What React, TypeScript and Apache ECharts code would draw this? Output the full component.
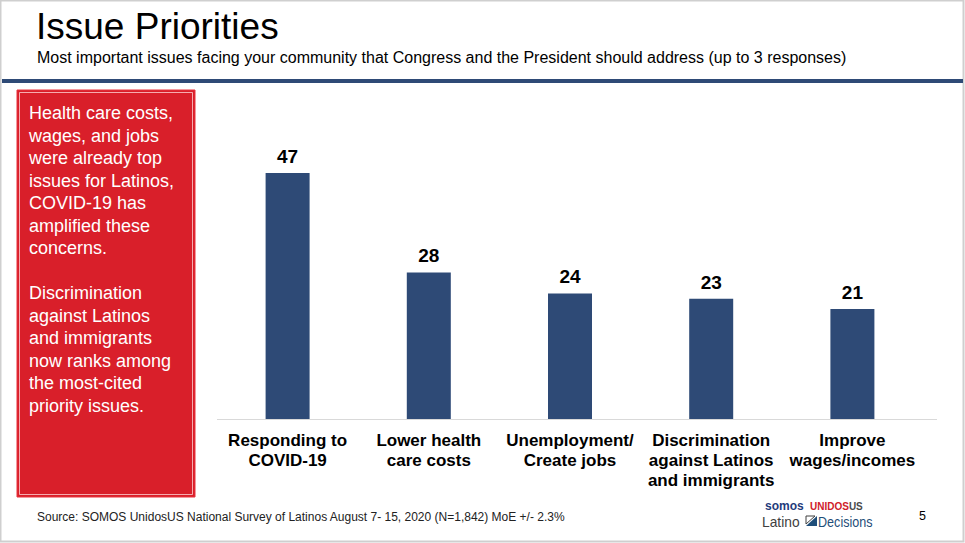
import React, { useEffect, useRef } from "react";
import * as echarts from "echarts";

const categories = [
  "Responding to\nCOVID-19",
  "Lower health\ncare costs",
  "Unemployment/\nCreate jobs",
  "Discrimination\nagainst Latinos\nand immigrants",
  "Improve\nwages/incomes",
];
const values = [47, 28, 24, 23, 21];

const titleText = "Issue Priorities";
const subtitleText =
  "Most important issues facing your community that Congress and the President should address (up to 3 responses)";
const boxText =
  "Health care costs,\nwages, and jobs\nwere already top\nissues for Latinos,\nCOVID-19 has\namplified these\nconcerns.\n\nDiscrimination\nagainst Latinos\nand immigrants\nnow ranks among\nthe most-cited\npriority issues.";
const sourceText =
  "Source: SOMOS UnidosUS National Survey of Latinos August 7- 15, 2020 (N=1,842) MoE +/- 2.3%";
const pageNumber = "5";

const NARROW = "'Liberation Sans Narrow', 'Arial Narrow', 'Liberation Sans', sans-serif";
const SANS = "'Liberation Sans', Arial, sans-serif";

export default function App() {
  const ref = useRef<HTMLDivElement>(null);
  useEffect(() => {
    const chart = echarts.init(ref.current!, undefined, { renderer: "svg" });
    chart.setOption({
      animation: false,
      backgroundColor: "#ffffff",
      grid: { left: 217, top: 105, width: 706, bottom: 124, containLabel: false },
      xAxis: {
        type: "category",
        data: categories,
        axisLine: { show: false },
        axisTick: { show: false },
        axisLabel: {
          interval: 0,
          color: "#000000",
          fontFamily: NARROW,
          fontWeight: "bold",
          fontSize: 17,
          lineHeight: 20,
          margin: 11,
        },
      },
      yAxis: {
        type: "value",
        min: 0,
        max: 60,
        show: false,
        splitLine: { show: false },
      },
      series: [
        {
          type: "bar",
          data: values,
          barWidth: 44,
          itemStyle: { color: "#2E4A76" },
          label: {
            show: true,
            position: "top",
            distance: 7,
            color: "#000000",
            fontFamily: SANS,
            fontWeight: "bold",
            fontSize: 19,
          },
        },
      ],
      graphic: [
        {
          type: "rect",
          shape: { x: 0.5, y: 0.5, width: 963, height: 541 },
          style: { fill: "none", stroke: "#CFCFCF", lineWidth: 2 },
          silent: true,
        },
        {
          type: "rect",
          shape: { x: 2, y: 79, width: 961, height: 4 },
          style: { fill: "#2E4A76" },
        },
        {
          type: "line",
          shape: { x1: 217, y1: 419.5, x2: 937, y2: 419.5 },
          style: { stroke: "#D9D9D9", lineWidth: 1 },
        },
        {
          type: "text",
          left: 36,
          top: 8,
          style: { text: titleText, font: `37px ${SANS}`, fill: "#000000" },
        },
        {
          type: "text",
          left: 37,
          top: 49,
          style: { text: subtitleText, font: `16px ${SANS}`, fill: "#000000" },
        },
        {
          type: "rect",
          shape: { x: 17, y: 90, width: 178, height: 407 },
          style: { fill: "#D91F2A", stroke: "#E8323C", lineWidth: 1 },
        },
        {
          type: "rect",
          shape: { x: 19.5, y: 92.5, width: 173, height: 402 },
          style: { fill: "none", stroke: "rgba(255,220,220,0.75)", lineWidth: 1 },
        },
        {
          type: "text",
          left: 29,
          top: 102,
          style: {
            text: boxText,
            font: `18px ${SANS}`,
            lineHeight: 22.5,
            fill: "#ffffff",
          },
        },
        {
          type: "text",
          left: 37,
          top: 511,
          style: { text: sourceText, font: `12px ${SANS}`, fill: "#222222" },
        },
        {
          type: "text",
          left: 919,
          top: 509,
          style: { text: pageNumber, font: `12.5px ${SANS}`, fill: "#000000" },
        },
        {
          type: "text",
          left: 765,
          top: 500,
          style: { text: "somos", font: `bold 12px ${SANS}`, fill: "#1F3C7C" },
        },
        {
          type: "text",
          left: 810,
          top: 501,
          style: {
            text: "{r|UNIDOS}{g|US}",
            rich: {
              r: { font: `bold 10px ${SANS}`, fill: "#D0202A" },
              g: { font: `bold 10px ${SANS}`, fill: "#4A4A4A" },
            },
          },
        },
        {
          type: "text",
          x: 762,
          y: 514,
          scaleX: 0.92,
          style: { text: "Latino", font: `15px ${SANS}`, fill: "#404040" },
        },
        {
          type: "polygon",
          shape: { points: [[806, 526], [817, 516], [817, 526]] },
          style: { fill: "#1F4E79" },
        },
        {
          type: "polygon",
          shape: { points: [[806, 516], [815, 516], [806, 524]] },
          style: { fill: "none", stroke: "#404040", lineWidth: 1 },
        },
        {
          type: "text",
          x: 818,
          y: 514,
          scaleX: 0.84,
          style: { text: "Decisions", font: `15px ${SANS}`, fill: "#1F4E79" },
        },
      ],
    });
    return () => chart.dispose();
  }, []);
  return (
    <div
      ref={ref}
      style={{ position: "fixed", left: 0, top: 0, width: 965, height: 543 }}
    />
  );
}
